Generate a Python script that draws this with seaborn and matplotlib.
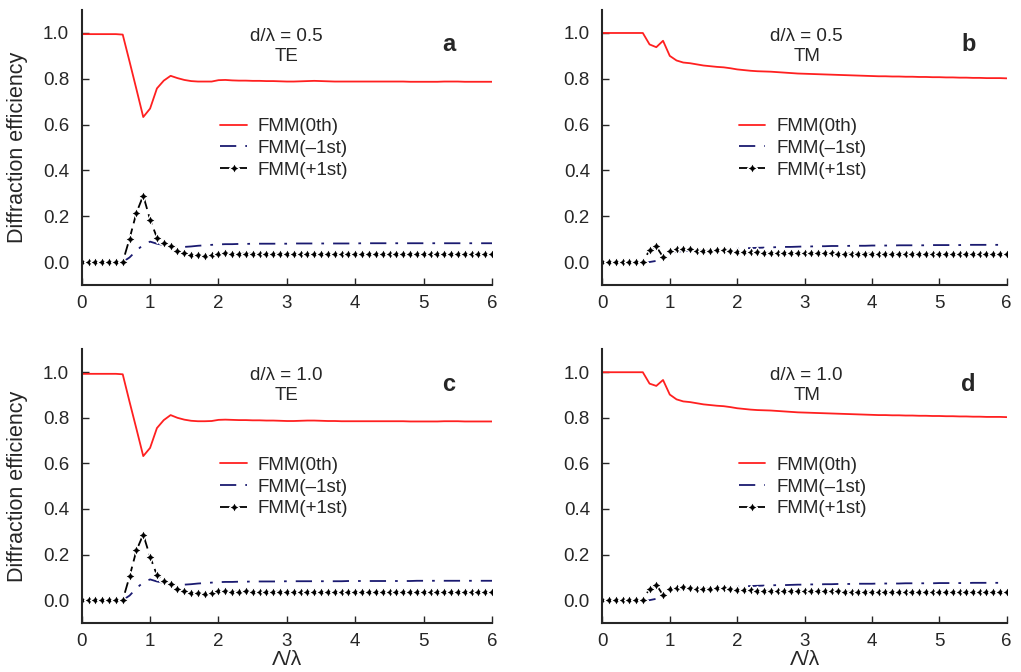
import numpy as np
import pandas as pd
import matplotlib
matplotlib.use('Agg')
import matplotlib.pyplot as plt
import seaborn as sns

sns.set_style('ticks')
plt.rcParams['font.family'] = ['Liberation Sans', 'DejaVu Sans']

# grid of period / wavelength
x = np.round(np.arange(0, 6.01, 0.1), 1)

# panel a: d/lambda = 0.5, TE
te0_a = [0.995, 0.995, 0.995, 0.995, 0.995, 0.995, 0.993,
         0.875, 0.755, 0.633, 0.670, 0.758, 0.792, 0.813, 0.803, 0.795,
         0.790, 0.788, 0.788, 0.788, 0.794, 0.795, 0.793, 0.792, 0.792, 0.791,
         0.791, 0.790, 0.790, 0.789, 0.788, 0.788, 0.789, 0.790, 0.791, 0.790,
         0.789, 0.788, 0.788, 0.788, 0.788, 0.788, 0.788, 0.788, 0.788, 0.788,
         0.788, 0.788, 0.787, 0.787, 0.787, 0.787, 0.787, 0.788, 0.788, 0.788,
         0.787, 0.787, 0.787, 0.787, 0.787]
tem1_a = [0, 0, 0, 0, 0, 0, 0,
          0.020, 0.050, 0.075, 0.089, 0.080, 0.074, 0.070, 0.067, 0.066,
          0.068, 0.071, 0.073, 0.075, 0.077, 0.078, 0.078, 0.079, 0.079, 0.080,
          0.080, 0.080, 0.080, 0.080, 0.080, 0.081, 0.081, 0.081, 0.081, 0.081,
          0.081, 0.081, 0.081, 0.081, 0.081, 0.082, 0.082, 0.082, 0.082, 0.082,
          0.082, 0.082, 0.082, 0.082, 0.082, 0.082, 0.082, 0.082, 0.082, 0.082,
          0.082, 0.082, 0.082, 0.082, 0.082]
tep1_a = [0, 0, 0, 0, 0, 0, 0,
          0.102, 0.215, 0.290, 0.185, 0.107, 0.084, 0.070, 0.047, 0.040,
          0.030, 0.029, 0.028, 0.030, 0.037, 0.038, 0.036, 0.036, 0.037, 0.036,
          0.036, 0.035, 0.036, 0.036, 0.035, 0.035, 0.035, 0.035, 0.035, 0.035,
          0.035, 0.035, 0.034, 0.034, 0.035, 0.035, 0.034, 0.034, 0.034, 0.034,
          0.034, 0.034, 0.034, 0.034, 0.034, 0.034, 0.034, 0.034, 0.034, 0.034,
          0.034, 0.034, 0.034, 0.034, 0.034]

# panel b: d/lambda = 0.5, TM
tm0_b = [1.0, 1.0, 1.0, 1.0, 1.0, 1.0, 1.0,
         0.950, 0.938, 0.966, 0.900, 0.880, 0.871, 0.868, 0.863, 0.858,
         0.855, 0.852, 0.850, 0.846, 0.841, 0.838, 0.835, 0.833, 0.832, 0.831,
         0.829, 0.827, 0.825, 0.823, 0.822, 0.821, 0.820, 0.819, 0.818, 0.817,
         0.816, 0.815, 0.814, 0.813, 0.812, 0.811, 0.811, 0.810, 0.810, 0.809,
         0.809, 0.808, 0.808, 0.807, 0.807, 0.806, 0.806, 0.805, 0.805, 0.804,
         0.804, 0.803, 0.803, 0.803, 0.802]
tmm1_b = [0, 0, 0, 0, 0, 0, 0,
          0.000, 0.005, 0.020, 0.038, 0.045, 0.048, 0.049, 0.050, 0.050,
          0.051, 0.052, 0.053, 0.055, 0.058, 0.060, 0.061, 0.062, 0.063, 0.064,
          0.065, 0.066, 0.066, 0.067, 0.068, 0.068, 0.069, 0.069, 0.070, 0.070,
          0.070, 0.071, 0.071, 0.071, 0.072, 0.072, 0.072, 0.072, 0.073, 0.073,
          0.073, 0.073, 0.073, 0.074, 0.074, 0.074, 0.074, 0.074, 0.075, 0.075,
          0.075, 0.075, 0.075, 0.075, 0.075]
tmp1_b = [0, 0, 0, 0, 0, 0, 0,
          0.052, 0.068, 0.022, 0.047, 0.055, 0.056, 0.055, 0.050, 0.048,
          0.050, 0.051, 0.052, 0.050, 0.045, 0.043, 0.042, 0.042, 0.041, 0.040,
          0.040, 0.040, 0.039, 0.039, 0.039, 0.038, 0.038, 0.038, 0.038, 0.037,
          0.037, 0.037, 0.037, 0.037, 0.037, 0.037, 0.036, 0.036, 0.036, 0.036,
          0.036, 0.036, 0.036, 0.036, 0.036, 0.036, 0.035, 0.035, 0.035, 0.035,
          0.035, 0.035, 0.035, 0.035, 0.035]

# panel c: d/lambda = 1.0, TE
te0_c = [0.993, 0.993, 0.993, 0.993, 0.993, 0.993, 0.991,
         0.870, 0.752, 0.632, 0.668, 0.755, 0.790, 0.812, 0.800, 0.792,
         0.787, 0.785, 0.785, 0.786, 0.791, 0.792, 0.791, 0.790, 0.790, 0.789,
         0.789, 0.788, 0.788, 0.787, 0.786, 0.786, 0.787, 0.788, 0.788, 0.787,
         0.786, 0.786, 0.785, 0.785, 0.785, 0.785, 0.785, 0.785, 0.785, 0.785,
         0.785, 0.785, 0.784, 0.784, 0.784, 0.784, 0.784, 0.785, 0.785, 0.785,
         0.784, 0.784, 0.784, 0.784, 0.784]
tem1_c = [0, 0, 0, 0, 0, 0, 0,
          0.020, 0.052, 0.078, 0.091, 0.082, 0.076, 0.072, 0.069, 0.068,
          0.070, 0.073, 0.075, 0.077, 0.079, 0.080, 0.080, 0.081, 0.081, 0.082,
          0.082, 0.082, 0.082, 0.082, 0.083, 0.083, 0.083, 0.083, 0.083, 0.083,
          0.083, 0.083, 0.083, 0.084, 0.084, 0.084, 0.084, 0.084, 0.084, 0.084,
          0.084, 0.084, 0.084, 0.085, 0.085, 0.085, 0.085, 0.085, 0.085, 0.085,
          0.085, 0.085, 0.085, 0.085, 0.085]
tep1_c = [0, 0, 0, 0, 0, 0, 0,
          0.104, 0.218, 0.288, 0.190, 0.110, 0.086, 0.072, 0.048, 0.041,
          0.031, 0.030, 0.029, 0.031, 0.038, 0.039, 0.037, 0.037, 0.038, 0.037,
          0.037, 0.036, 0.037, 0.037, 0.036, 0.036, 0.036, 0.036, 0.036, 0.036,
          0.036, 0.036, 0.035, 0.035, 0.036, 0.036, 0.035, 0.035, 0.035, 0.035,
          0.035, 0.035, 0.035, 0.035, 0.035, 0.035, 0.035, 0.035, 0.035, 0.035,
          0.035, 0.035, 0.035, 0.035, 0.035]

# panel d: d/lambda = 1.0, TM
tm0_d = [1.0, 1.0, 1.0, 1.0, 1.0, 1.0, 1.0,
         0.950, 0.940, 0.966, 0.902, 0.881, 0.872, 0.869, 0.864, 0.859,
         0.856, 0.853, 0.851, 0.847, 0.842, 0.839, 0.836, 0.834, 0.833, 0.832,
         0.830, 0.828, 0.826, 0.824, 0.823, 0.822, 0.821, 0.820, 0.819, 0.818,
         0.817, 0.816, 0.815, 0.814, 0.813, 0.812, 0.812, 0.811, 0.811, 0.810,
         0.810, 0.809, 0.809, 0.808, 0.808, 0.807, 0.807, 0.806, 0.806, 0.805,
         0.805, 0.804, 0.804, 0.804, 0.803]
tmm1_d = [0, 0, 0, 0, 0, 0, 0,
          0.000, 0.006, 0.021, 0.038, 0.046, 0.049, 0.050, 0.051, 0.051,
          0.052, 0.053, 0.054, 0.056, 0.059, 0.061, 0.062, 0.063, 0.064, 0.065,
          0.066, 0.066, 0.067, 0.068, 0.068, 0.069, 0.069, 0.070, 0.070, 0.071,
          0.071, 0.071, 0.072, 0.072, 0.072, 0.073, 0.073, 0.073, 0.073, 0.074,
          0.074, 0.074, 0.074, 0.074, 0.075, 0.075, 0.075, 0.075, 0.075, 0.076,
          0.076, 0.076, 0.076, 0.076, 0.076]
tmp1_d = [0, 0, 0, 0, 0, 0, 0,
          0.050, 0.068, 0.022, 0.048, 0.055, 0.056, 0.055, 0.051, 0.049,
          0.051, 0.052, 0.053, 0.051, 0.046, 0.044, 0.043, 0.042, 0.041, 0.041,
          0.040, 0.040, 0.040, 0.039, 0.039, 0.039, 0.038, 0.038, 0.038, 0.038,
          0.037, 0.037, 0.037, 0.037, 0.037, 0.037, 0.037, 0.036, 0.036, 0.036,
          0.036, 0.036, 0.036, 0.036, 0.036, 0.036, 0.036, 0.035, 0.035, 0.035,
          0.035, 0.035, 0.035, 0.035, 0.035]

panels = [
    ('a', 'd/\u03bb = 0.5', 'TE', te0_a, tem1_a, tep1_a),
    ('b', 'd/\u03bb = 0.5', 'TM', tm0_b, tmm1_b, tmp1_b),
    ('c', 'd/\u03bb = 1.0', 'TE', te0_c, tem1_c, tep1_c),
    ('d', 'd/\u03bb = 1.0', 'TM', tm0_d, tmm1_d, tmp1_d),
]

# axes rectangles (figure fraction)
rects = [[0.080, 0.576, 0.402, 0.409],
         [0.590, 0.576, 0.396, 0.409],
         [0.080, 0.073, 0.402, 0.407],
         [0.590, 0.073, 0.396, 0.407]]

fig = plt.figure(figsize=(10.21, 6.72), dpi=100)

for i, (tag, dtxt, pol, zero, minus, plus) in enumerate(panels):
    ax = fig.add_axes(rects[i])
    sns.lineplot(x=x, y=zero, ax=ax, color='#ff2020', lw=1.3, label='FMM(0th)')
    sns.lineplot(x=x, y=minus, ax=ax, color='#1a1a70', lw=1.3,
                 dashes=(9, 5, 1.5, 5), label='FMM(\u20131st)')
    sns.lineplot(x=x, y=plus, ax=ax, color='black', lw=1.3, dashes=(6, 3),
                 marker=(4, 1, 0), markersize=7.5, markeredgewidth=1.0,
                 label='FMM(+1st)')

    ax.set_xlim(0, 6)
    ax.set_ylim(-0.1, 1.1)
    ax.set_xticks(range(0, 7))
    ax.set_yticks([0.0, 0.2, 0.4, 0.6, 0.8, 1.0])
    ax.set_yticklabels(['0.0', '0.2', '0.4', '0.6', '0.8', '1.0'])
    ax.tick_params(direction='in', labelsize=13.5, length=5, width=1)
    ax.tick_params(axis='y', pad=9)
    ax.tick_params(axis='x', pad=7)
    for s in ['top', 'right']:
        ax.spines[s].set_visible(False)
    for s in ['left', 'bottom']:
        ax.spines[s].set_linewidth(1.5)

    left = i % 2 == 0
    xc = 0.498 if left else 0.505
    ax.text(xc, 0.904, dtxt, transform=ax.transAxes, ha='center', va='center', fontsize=13.5)
    ax.text(xc, 0.831, pol, transform=ax.transAxes, ha='center', va='center', fontsize=13.5)
    ax.text(0.894 if left else 0.905, 0.873, tag, transform=ax.transAxes,
            ha='center', va='center', fontsize=17, fontweight='bold')

    ax.legend(loc='center left', bbox_to_anchor=(0.338, 0.497),
              frameon=False, fontsize=13.5, borderpad=0, borderaxespad=0,
              handlelength=1.4, handletextpad=0.6, labelspacing=0.25)

    if left:
        ax.set_ylabel('Diffraction efficiency', fontsize=15.5)
        ax.yaxis.set_label_coords(-0.132, 0.5)
    if i >= 2:
        ax.set_xlabel('\u039b/\u03bb', fontsize=15, labelpad=0)

fig.savefig('out.png', dpi=100)
